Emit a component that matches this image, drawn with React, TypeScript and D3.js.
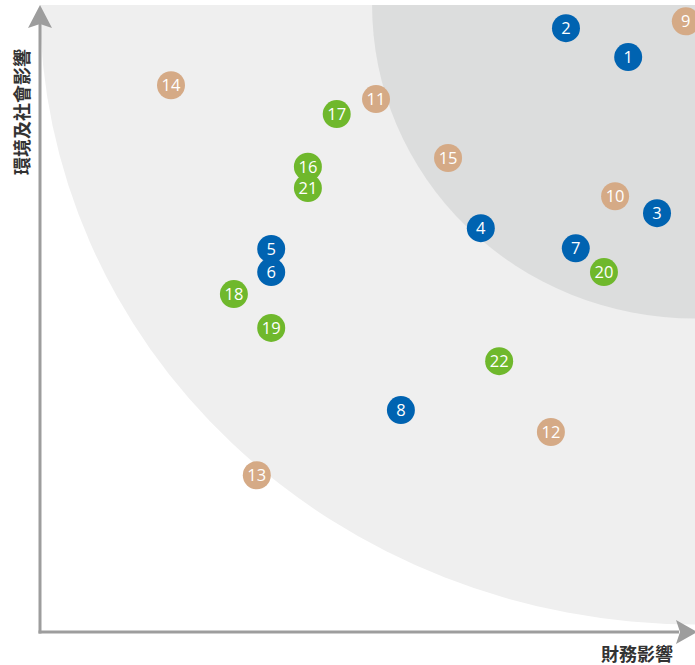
import { useMemo } from "react"
import { scaleLinear } from "d3"

const W = 695, H = 665
const X0 = 40, X1 = 695, Y0 = 632, Y1 = 5

// issue numbers, financial impact (x) and env/social impact (y), 0-10
const ids = [1, 2, 3, 4, 5, 6, 7, 8, 9, 10, 11, 12, 13, 14, 15, 16, 17, 18, 19, 20, 21, 22]
const finImpact = [8.98, 8.03, 9.42, 6.73, 3.53, 3.53, 8.18, 5.51, 9.86, 8.78, 5.13, 7.8, 3.31, 2.0, 6.23, 4.09, 4.53, 2.96, 3.53, 8.61, 4.09, 7.01]
const esgImpact = [9.17, 9.63, 6.68, 6.44, 6.11, 5.74, 6.12, 3.54, 9.74, 6.95, 8.5, 3.19, 2.5, 8.72, 7.56, 7.42, 8.26, 5.39, 4.85, 5.74, 7.08, 4.32]
const groups = ["g", "g", "g", "g", "g", "g", "g", "g", "e", "e", "e", "e", "e", "e", "e", "s", "s", "s", "s", "s", "s", "s"]

const GROUP_COLORS: Record<string, string> = { g: "#0063b1", e: "#d5aa86", s: "#6fb82c" }

// materiality zones: radius along x and y, centred on top-right corner (10,10)
const zoneRx = [10, 4.93]
const zoneRy = [9.88, 5.0]
const zoneFill = ["#efefef", "#dcdddd"]

const AXIS = "#9d9d9d"
const CJK = "'Noto Sans CJK TC', 'Noto Sans', sans-serif"

export default function App() {
  const x = useMemo(() => scaleLinear().domain([0, 10]).range([X0, X1]), [])
  const y = useMemo(() => scaleLinear().domain([0, 10]).range([Y0, Y1]), [])

  const pts = ids.map((id, i) => ({ id, cx: x(finImpact[i]), cy: y(esgImpact[i]), color: GROUP_COLORS[groups[i]] }))

  return (
    <svg width={W} height={H} style={{ position: "absolute", left: 0, top: 0, display: "block", background: "#fff" }}>
      <defs>
        <clipPath id="plot">
          <rect x={X0} y={Y1} width={X1 - X0} height={Y0 - Y1} />
        </clipPath>
      </defs>

      <g clipPath="url(#plot)">
        {zoneRx.map((rx, i) => (
          <ellipse key={i} cx={x(10)} cy={y(10)}
            rx={x(rx) - x(0)} ry={y(0) - y(zoneRy[i])} fill={zoneFill[i]} />
        ))}
      </g>

      {/* axes */}
      <line x1={X0} x2={X0} y1={Y0 + 1.5} y2={Y1 + 18} stroke={AXIS} strokeWidth={3} />
      <line x1={X0 - 1.5} x2={X1 - 16} y1={Y0} y2={Y0} stroke={AXIS} strokeWidth={3} />
      <path d={`M${X0},${Y1} L${X0 + 12},${Y1 + 23} L${X0},${Y1 + 19} L${X0 - 12},${Y1 + 23} Z`} fill={AXIS} />
      <path d={`M${X1 + 2},${Y0} L${X1 - 19},${Y0 - 12} L${X1 - 15},${Y0} L${X1 - 19},${Y0 + 12} Z`} fill={AXIS} />

      <text transform={`translate(29,112) rotate(-90)`} textAnchor="middle"
        fontFamily={CJK} fontSize={18} fontWeight={700} fill="#333">環境及社會影響</text>
      <text x={673} y={661} textAnchor="end"
        fontFamily={CJK} fontSize={18} fontWeight={700} fill="#333">財務影響</text>

      {/* issues */}
      {pts.map(p => (
        <g key={p.id} transform={`translate(${p.cx},${p.cy})`}>
          <circle r={14} fill={p.color} />
          <text y={5.8} textAnchor="middle" fill="#fff"
            fontFamily="'Open Sans', 'Noto Sans', sans-serif" fontSize={16.5}>{p.id}</text>
        </g>
      ))}
    </svg>
  )
}
